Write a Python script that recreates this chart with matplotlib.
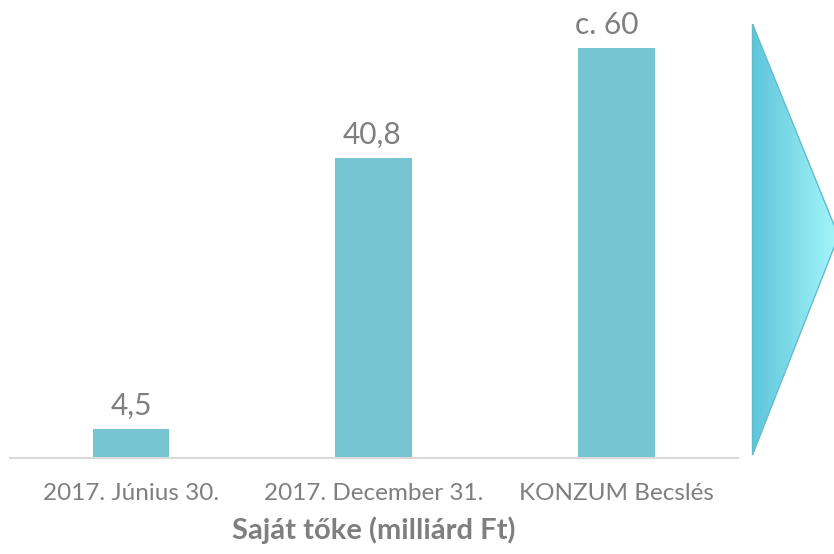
# Saját tőke oszlopdiagram, jobb oldalon egy színátmenetes nyíllal

import numpy as np
import matplotlib.pyplot as plt
from matplotlib.patches import Polygon
from matplotlib.colors import LinearSegmentedColormap

# adatok
kategoriak = ["2017. Június 30.", "2017. December 31.", "KONZUM Becslés"]
magassag = [4.3, 43.9, 60]          # az oszlopok rajzolt magassága
cimkek = ["4,5", "40,8", "c. 60"]   # a kiírt értékek

szurke = '#7f7f7f'
plt.rcParams['font.family'] = ['Lato', 'DejaVu Sans']

fig = plt.figure(figsize=(8.34, 5.54), dpi=100)
ax = fig.add_axes([0.0115, 0.1733, 0.873, 0.7906])

# oszlopok
x = np.arange(len(kategoriak))
oszlopok = ax.bar(x, magassag, width=0.315, color='#77c4d3', zorder=2)
ax.set_xlim(-0.5, 2.5)
ax.set_ylim(0, 64.05)

# értékcímkék az oszlopok fölött (a "c. 60" kicsit balra csúszik)
eltolas = [0, -1, -7]
for o, c, dx in zip(oszlopok, cimkek, eltolas):
    ax.annotate(c, (o.get_x() + o.get_width() / 2, o.get_height()),
                xytext=(dx, 10), textcoords='offset points',
                ha='center', va='baseline', fontsize=21.5, color=szurke)

# tengelyek
ax.set_xticks(x)
ax.set_xticklabels(kategoriak, fontsize=17.5, color=szurke)
ax.tick_params(axis='x', length=0, pad=18)
ax.set_yticks([])
for s in ['left', 'right', 'top']:
    ax.spines[s].set_visible(False)
ax.spines['bottom'].set_color('#d9d9d9')
ax.spines['bottom'].set_linewidth(1.5)

fig.text(374 / 834, 1 - 530 / 554, "Saját tőke (milliárd Ft)",
         ha='center', va='center', fontsize=21, fontweight='bold', color=szurke)

# nyíl a jobb szélen, pixel koordinátákban
ax2 = fig.add_axes([0, 0, 1, 1], zorder=3)
cmap = LinearSegmentedColormap.from_list('nyil', ['#5ec5da', '#a6f8fb'])
grad = np.linspace(0, 1, 256).reshape(1, -1)
im = ax2.imshow(grad, extent=(752, 839, 455, 24), cmap=cmap, aspect='auto')
nyil = Polygon([(752.5, 24), (838.5, 236), (752.5, 455)], closed=True,
               facecolor='none', edgecolor='#62bccc', lw=1)
ax2.add_patch(nyil)
im.set_clip_path(nyil)
ax2.set_xlim(0, 834)
ax2.set_ylim(554, 0)
ax2.axis('off')

plt.savefig("out.png", dpi=100)
